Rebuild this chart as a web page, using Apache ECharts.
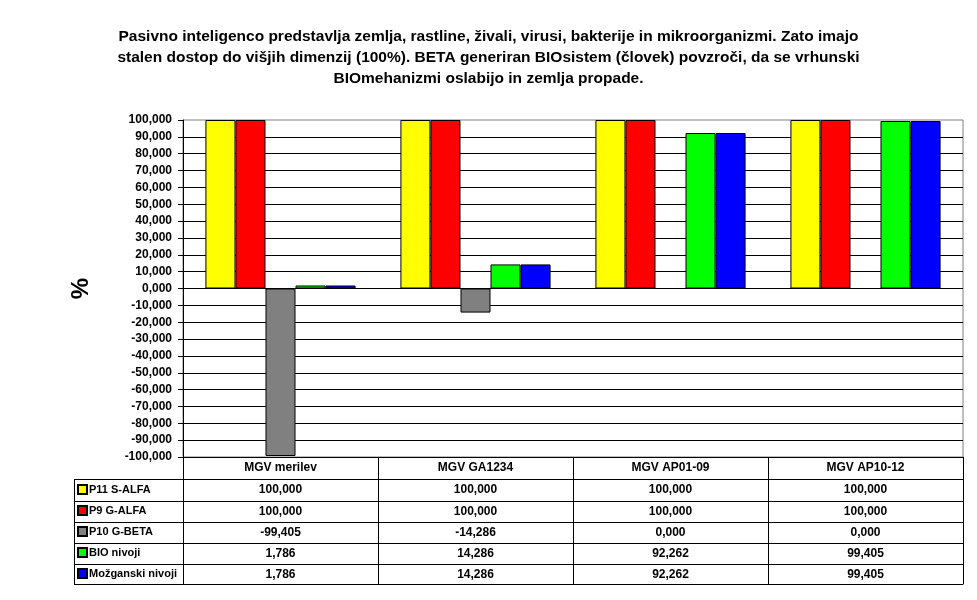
<!DOCTYPE html>
<html>
<head>
<meta charset="utf-8">
<script src="https://cdn.jsdelivr.net/npm/echarts@6/dist/echarts.min.js"></script>
<style>
  html, body { margin: 0; padding: 0; background: #fff; }
  #chart { width: 977px; height: 600px; }
</style>
</head>
<body>
<div id="chart"></div>
<script>
// categories and series
var categories = ['MGV merilev', 'MGV GA1234', 'MGV AP01-09', 'MGV AP10-12'];
var seriesNames = ['P11 S-ALFA', 'P9 G-ALFA', 'P10 G-BETA', 'BIO nivoji', 'Možganski nivoji'];
var p11SAlfa = [100, 100, 100, 100];
var p9GAlfa = [100, 100, 100, 100];
var p10GBeta = [-99.405, -14.286, 0, 0];
var bioNivoji = [1.786, 14.286, 92.262, 99.405];
var mozganskiNivoji = [1.786, 14.286, 92.262, 99.405];
var colors = ['#ffff00', '#ff0000', '#808080', '#00ff00', '#0000ff'];

var titleText = 'Pasivno inteligenco predstavlja zemlja, rastline, živali, virusi, bakterije in mikroorganizmi. Zato imajo\n' +
  'stalen dostop do višjih dimenzij (100%). BETA generiran BIOsistem (človek) povzroči, da se vrhunski\n' +
  'BIOmehanizmi oslabijo in zemlja propade.';

var font = "'Liberation Sans', Arial, sans-serif";
var allValues = [p11SAlfa, p9GAlfa, p10GBeta, bioNivoji, mozganskiNivoji];

// table layout (px below the plot bottom)
var gridLeft = 183;
var gridBottomY = 457;
var rowOffsets = [22, 44, 65, 86, 107];
var tableBottom = 127;
var legendLeft = 74;

function fmt (v) {
  return v.toFixed(3).replace('.', ',');
}

var xAxes = [{
  type: 'category',
  data: categories,
  position: 'bottom',
  axisLine: { onZero: false, lineStyle: { color: '#000', width: 1 } },
  axisTick: { show: true, length: rowOffsets[0], interval: 0, lineStyle: { color: '#000' } },
  axisLabel: { color: '#000', fontWeight: 'bold', fontSize: 12, fontFamily: font, margin: 5, interval: 0 }
}];

rowOffsets.forEach(function (off, k) {
  var next = k < rowOffsets.length - 1 ? rowOffsets[k + 1] : tableBottom;
  xAxes.push({
    type: 'category',
    data: categories,
    position: 'bottom',
    offset: off,
    axisLine: { onZero: false, lineStyle: { color: '#000', width: 1 } },
    axisTick: { show: true, length: next - off, interval: 0, lineStyle: { color: '#000' } },
    axisLabel: {
      color: '#000', fontWeight: 'bold', fontSize: 12, fontFamily: font, margin: 5, interval: 0,
      formatter: function (v, i) {
        return fmt(allValues[k][i]);
      }
    }
  });
});

xAxes.push({
  type: 'category',
  data: categories,
  position: 'bottom',
  offset: tableBottom,
  axisLine: { onZero: false, lineStyle: { color: '#000', width: 1 } },
  axisTick: { show: false },
  axisLabel: { show: false }
});

// legend column borders
var legendLines = [];
rowOffsets.concat([tableBottom]).forEach(function (off) {
  legendLines.push({
    type: 'line',
    shape: { x1: legendLeft, y1: gridBottomY + off + 0.5, x2: gridLeft, y2: gridBottomY + off + 0.5 },
    style: { stroke: '#000', lineWidth: 1 }
  });
});
legendLines.push({
  type: 'line',
  shape: { x1: legendLeft + 0.5, y1: gridBottomY + rowOffsets[0], x2: legendLeft + 0.5, y2: gridBottomY + tableBottom + 1 },
  style: { stroke: '#000', lineWidth: 1 }
});

var series = seriesNames.map(function (name, i) {
  return {
    name: name,
    type: 'bar',
    data: allValues[i],
    barGap: '0%',
    barCategoryGap: '23%',
    itemStyle: { color: colors[i], borderColor: '#000', borderWidth: 1 }
  };
});

var myChart = echarts.init(document.getElementById('chart'));
myChart.setOption({
  animation: false,
  textStyle: { fontFamily: font },
  title: {
    text: titleText,
    left: 'center',
    top: 21,
    textStyle: { color: '#000', fontSize: 15.5, fontWeight: 'bold', fontFamily: font, lineHeight: 21 }
  },
  legend: {
    data: seriesNames,
    orient: 'vertical',
    left: legendLeft + 3,
    top: gridBottomY + rowOffsets[0],
    padding: 0,
    itemGap: 0,
    itemWidth: 9,
    itemHeight: 9,
    icon: 'rect',
    selectedMode: false,
    textStyle: { color: '#000', fontSize: 11, fontWeight: 'bold', fontFamily: font, lineHeight: 21, padding: [0, 0, 0, -3] }
  },
  grid: {
    left: gridLeft,
    right: 14,
    top: 120,
    bottom: 600 - gridBottomY,
    show: true,
    borderColor: '#808080',
    borderWidth: 1,
    containLabel: false
  },
  xAxis: xAxes,
  yAxis: {
    type: 'value',
    min: -100,
    max: 100,
    interval: 10,
    name: '%',
    nameLocation: 'middle',
    nameRotate: 90,
    nameGap: 90,
    nameTextStyle: { color: '#000', fontSize: 24, fontWeight: 'bold', fontFamily: font },
    axisLine: { show: true, lineStyle: { color: '#000', width: 1 } },
    axisTick: { show: true, length: 5, lineStyle: { color: '#000' } },
    axisLabel: { color: '#000', fontWeight: 'bold', fontSize: 12, fontFamily: font, margin: 11, formatter: fmt },
    splitLine: { show: true, showMaxLine: false, lineStyle: { color: '#000', width: 1 } }
  },
  graphic: legendLines,
  series: series
});
</script>
</body>
</html>
